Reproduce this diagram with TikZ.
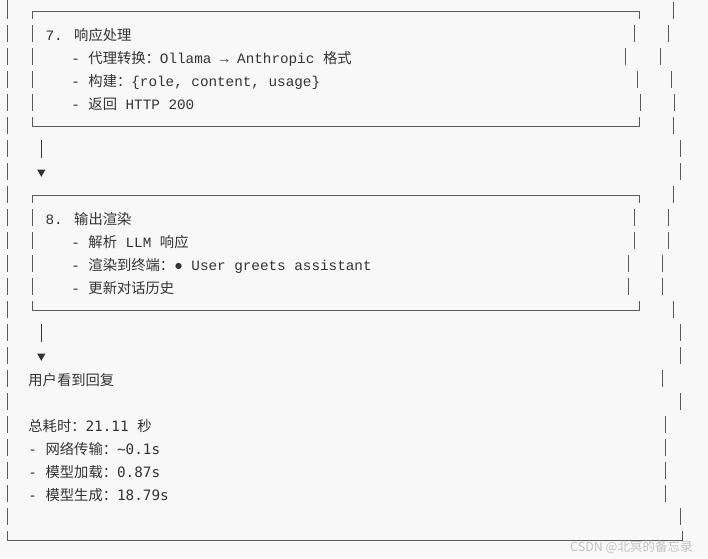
\documentclass[tikz,border=0pt]{standalone}
\usepackage{fontspec}
\usetikzlibrary{shapes.geometric}
\newfontfamily\mono{Liberation Mono}
\newfontfamily\monob{DejaVu Sans Mono}
\newfontfamily\cjk{Noto Sans CJK SC}
\definecolor{bg}{HTML}{F8F8F8}
\definecolor{ink}{HTML}{333333}
\definecolor{rulec}{HTML}{5A5A5A}
\definecolor{wmc}{HTML}{C4C4C4}
\begin{document}
\begin{tikzpicture}[x=1pt,y=-1pt,
  bar/.style={draw=rulec,line width=0.9pt},
  txt/.style={anchor=base west,inner sep=0pt,outer sep=0pt,text=ink,font=\fontsize{14.3}{14.3}\selectfont\mono},
  lowtxt/.style={txt,font=\fontsize{14.3}{14.3}\selectfont\monob},
  tri/.style={regular polygon,regular polygon sides=3,shape border rotate=180,fill=ink,draw=none,inner sep=0pt,minimum size=9.6pt},
  stem/.style={draw=ink,line width=0.9pt},
  wm/.style={anchor=base west,inner sep=0pt,text=wmc,font=\fontsize{12.5}{12.5}\selectfont\cjk}]
\fill[bg] (0,0) rectangle (708,558);
\useasboundingbox (0,0) rectangle (708,558);

% ---- outer frame (left side, bottom, jagged right side) ----
\draw[bar] (7,0) -- (7,19);
\foreach \k in {1,...,22} \draw[bar] (7,{11.5+23*\k-9.5}) -- (7,{11.5+23*\k+7.5});
\draw[bar] (7,531) -- (7,540.5) -- (682,540.5) -- (682,531);
\foreach \k/\x in {0/673,1/668.6,2/660,3/671.4,4/674.3,5/673,6/680,7/680,8/673,9/668.6,10/668.6,11/662.8,12/662.8,13/673,14/680,15/680,16/662.8,17/680,18/665.7,19/665.7,20/665.7,21/665.7,22/680}
  \draw[bar] (\x,{11.5+23*\k-9.5}) -- (\x,{11.5+23*\k+7.5});

% ---- box 7 ----
\draw[bar] (32.7,19) -- (32.7,11.5) -- (639,11.5) -- (639,19);
\foreach \k in {1,...,4} \draw[bar] (32.7,{11.5+23*\k-9.5}) -- (32.7,{11.5+23*\k+7.5});
\foreach \k/\x in {1/634.3,2/625.7,3/637.1,4/640}
  \draw[bar] (\x,{11.5+23*\k-9.5}) -- (\x,{11.5+23*\k+7.5});
\draw[bar] (32.7,117) -- (32.7,126.5) -- (639,126.5) -- (639,117);

\node[txt] (b7title) at (45.6,40) {7. {\cjk 响应处理}};
\node[txt] (b7l1) at (71.3,63) {- {\cjk 代理转换：}Ollama → Anthropic {\cjk 格式}};
\node[txt] (b7l2) at (71.3,86) {- {\cjk 构建：}\{role, content, usage\}};
\node[txt] (b7l3) at (71.3,109) {- {\cjk 返回} HTTP 200};

% ---- connector 7 -> 8 ----
\coordinate (s1a) at (41.3,140);
\coordinate (s1b) at (41.3,157.5);
\draw[stem] (s1a) -- (s1b);
\node[tri] (a1) at (41.3,172) {};

% ---- box 8 ----
\draw[bar] (32.7,203) -- (32.7,195.5) -- (639,195.5) -- (639,203);
\foreach \k in {9,...,12} \draw[bar] (32.7,{11.5+23*\k-9.5}) -- (32.7,{11.5+23*\k+7.5});
\foreach \k/\x in {9/634.3,10/634.3,11/628.5,12/628.5}
  \draw[bar] (\x,{11.5+23*\k-9.5}) -- (\x,{11.5+23*\k+7.5});
\draw[bar] (32.7,301) -- (32.7,310.5) -- (639,310.5) -- (639,301);

\node[txt] (b8title) at (45.6,224) {8. {\cjk 输出渲染}};
\node[txt] (b8l1) at (71.3,247) {- {\cjk 解析} LLM {\cjk 响应}};
\node[txt] (b8l2) at (71.3,270) {- {\cjk 渲染到终端：}● User greets assistant};
\node[txt] (b8l3) at (71.3,293) {- {\cjk 更新对话历史}};

% ---- connector 8 -> result ----
\coordinate (s2a) at (41.3,324);
\coordinate (s2b) at (41.3,341.5);
\draw[stem] (s2a) -- (s2b);
\node[tri] (a2) at (41.3,356) {};

% ---- result ----
\node[txt] (res) at (28.4,385) {{\cjk 用户看到回复}};
\node[lowtxt] (tot) at (28.4,431) {{\cjk 总耗时：}21.11 {\cjk 秒}};
\node[lowtxt] (t1) at (28.4,454) {- {\cjk 网络传输：}\textasciitilde0.1s};
\node[lowtxt] (t2) at (28.4,477) {- {\cjk 模型加载：}0.87s};
\node[lowtxt] (t3) at (28.4,500) {- {\cjk 模型生成：}18.79s};

% ---- watermark ----
\node[wm] (wmk) at (570,551) {CSDN @北冥的备忘录};
\end{tikzpicture}
\end{document}
